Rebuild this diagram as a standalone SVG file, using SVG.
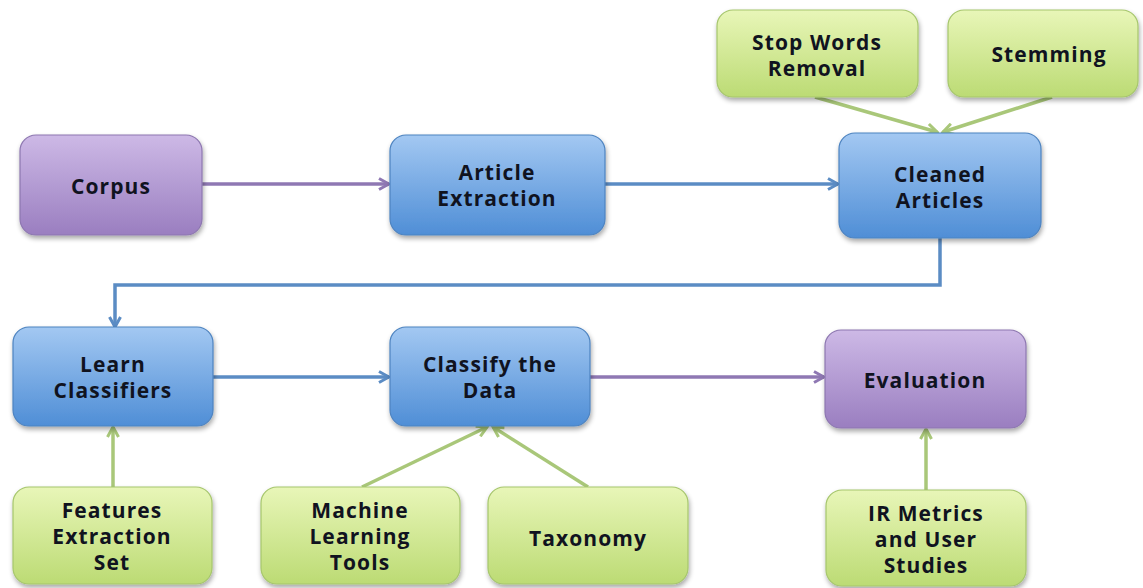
<svg xmlns="http://www.w3.org/2000/svg" width="1143" height="588" viewBox="0 0 1143 588">
  <defs>
    <linearGradient id="gPurple" x1="0" y1="0" x2="0" y2="1">
      <stop offset="0" stop-color="#cdb9e6"/>
      <stop offset="1" stop-color="#9a7ec0"/>
    </linearGradient>
    <linearGradient id="gBlue" x1="0" y1="0" x2="0" y2="1">
      <stop offset="0" stop-color="#a3c8f2"/>
      <stop offset="1" stop-color="#4f8ed6"/>
    </linearGradient>
    <linearGradient id="gGreen" x1="0" y1="0" x2="0" y2="1">
      <stop offset="0" stop-color="#e8f6b8"/>
      <stop offset="1" stop-color="#bcdb74"/>
    </linearGradient>
    <filter id="shadow" x="-10%" y="-10%" width="125%" height="130%">
      <feGaussianBlur in="SourceAlpha" stdDeviation="2.5"/>
      <feOffset dx="1" dy="3" result="b"/>
      <feComponentTransfer><feFuncA type="linear" slope="0.35"/></feComponentTransfer>
      <feMerge><feMergeNode/><feMergeNode in="SourceGraphic"/></feMerge>
    </filter>
    <marker id="arPurple" viewBox="0 0 14 14" refX="12" refY="7" markerWidth="14" markerHeight="14" markerUnits="userSpaceOnUse" orient="auto">
      <path d="M2,1.5 L12,7 L2,12.5" fill="none" stroke="#8f78b3" stroke-width="3"/>
    </marker>
    <marker id="arBlue" viewBox="0 0 14 14" refX="12" refY="7" markerWidth="14" markerHeight="14" markerUnits="userSpaceOnUse" orient="auto">
      <path d="M2,1.5 L12,7 L2,12.5" fill="none" stroke="#5b8cc4" stroke-width="3"/>
    </marker>
    <marker id="arGreen" viewBox="0 0 14 14" refX="12" refY="7" markerWidth="14" markerHeight="14" markerUnits="userSpaceOnUse" orient="auto">
      <path d="M2,1.5 L12,7 L2,12.5" fill="none" stroke="#a9c779" stroke-width="3"/>
    </marker>
  </defs>
  <style>
    .box { stroke-width: 1.2; filter: url(#shadow); }
    .purple { fill: url(#gPurple); stroke: #8d77b0; }
    .blue { fill: url(#gBlue); stroke: #4d83c0; }
    .green { fill: url(#gGreen); stroke: #a6c66c; }
    text { font-family: "Open Sans", "Liberation Sans", sans-serif; font-weight: 700; font-size: 21px; letter-spacing: 1.1px; fill: #10131f; text-anchor: middle; }
    .edge { fill: none; stroke-width: 3.5; }
    .ep { stroke: #8f78b3; marker-end: url(#arPurple); }
    .eb { stroke: #5b8cc4; marker-end: url(#arBlue); }
    .eg { stroke: #a9c779; marker-end: url(#arGreen); }
  </style>

  <rect width="1143" height="588" fill="#ffffff"/>

  <!-- connectors -->
  <g id="connectors">
    <path class="edge ep" d="M202,184 L389,184"/>
    <path class="edge eb" d="M605,184 L838,184"/>
    <path class="edge eg" d="M815,97 L937,132"/>
    <path class="edge eg" d="M1052,97 L943,132"/>
    <path class="edge eb" d="M940,238 L940,285 L115,285 L115,327"/>
    <path class="edge eb" d="M213,377 L389,377"/>
    <path class="edge ep" d="M590,377 L824,377"/>
    <path class="edge eg" d="M113,487 L113,427"/>
    <path class="edge eg" d="M362,487 L487,427"/>
    <path class="edge eg" d="M588,487 L493,427"/>
    <path class="edge eg" d="M926,490 L926,429"/>
  </g>

  <!-- nodes -->
  <g id="corpus">
    <rect class="box purple" x="20" y="135" width="182" height="100" rx="16"/>
    <text x="111" y="194">Corpus</text>
  </g>
  <g id="article-extraction">
    <rect class="box blue" x="390" y="135" width="215" height="100" rx="16"/>
    <text x="497" y="180">Article</text>
    <text x="497" y="206">Extraction</text>
  </g>
  <g id="cleaned-articles">
    <rect class="box blue" x="839" y="133" width="202" height="105" rx="16"/>
    <text x="940" y="182">Cleaned</text>
    <text x="940" y="208">Articles</text>
  </g>
  <g id="stop-words-removal">
    <rect class="box green" x="717" y="10" width="201" height="87" rx="16"/>
    <text x="817" y="50">Stop Words</text>
    <text x="817" y="76">Removal</text>
  </g>
  <g id="stemming">
    <rect class="box green" x="948" y="10" width="190" height="87" rx="16"/>
    <text x="1049" y="62">Stemming</text>
  </g>
  <g id="learn-classifiers">
    <rect class="box blue" x="13" y="327" width="200" height="99" rx="16"/>
    <text x="113" y="372">Learn</text>
    <text x="113" y="398">Classifiers</text>
  </g>
  <g id="classify-data">
    <rect class="box blue" x="390" y="327" width="200" height="99" rx="16"/>
    <text x="490" y="372">Classify the</text>
    <text x="490" y="398">Data</text>
  </g>
  <g id="evaluation">
    <rect class="box purple" x="825" y="330" width="201" height="98" rx="16"/>
    <text x="925" y="388">Evaluation</text>
  </g>
  <g id="features-extraction-set">
    <rect class="box green" x="13" y="487" width="199" height="97" rx="16"/>
    <text x="112" y="518">Features</text>
    <text x="112" y="544">Extraction</text>
    <text x="112" y="570">Set</text>
  </g>
  <g id="machine-learning-tools">
    <rect class="box green" x="261" y="487" width="199" height="97" rx="16"/>
    <text x="360" y="518">Machine</text>
    <text x="360" y="544">Learning</text>
    <text x="360" y="570">Tools</text>
  </g>
  <g id="taxonomy">
    <rect class="box green" x="488" y="487" width="200" height="97" rx="16"/>
    <text x="588" y="546">Taxonomy</text>
  </g>
  <g id="ir-metrics">
    <rect class="box green" x="826" y="490" width="200" height="96" rx="16"/>
    <text x="926" y="521">IR Metrics</text>
    <text x="926" y="547">and User</text>
    <text x="926" y="573">Studies</text>
  </g>
</svg>
